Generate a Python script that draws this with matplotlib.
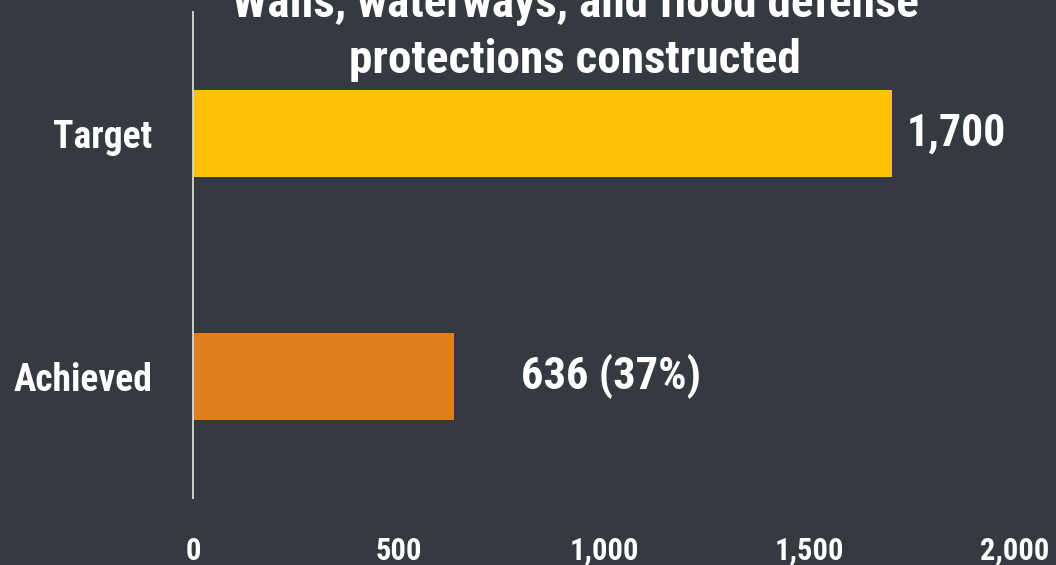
import matplotlib
matplotlib.use("Agg")
import matplotlib.pyplot as plt
from matplotlib import font_manager
from matplotlib.ticker import FuncFormatter

# Data
categories = ["Target", "Achieved"]
values = [1700, 636]
bar_colors = ["#ffc107", "#e07f1c"]
title_lines = ["Walls, waterways, and flood defense", "protections constructed"]
x_ticks = [0, 500, 1000, 1500, 2000]

BG = "#343a40"

# Prefer a narrow/condensed sans face if one is installed
available = {f.name for f in font_manager.fontManager.ttflist}
candidates = ["Roboto Condensed", "Liberation Sans Narrow", "DejaVu Sans Condensed",
              "DejaVu Sans"]
family = next((c for c in candidates if c in available), "DejaVu Sans")
stretch = "condensed" if family == "DejaVu Sans" else "normal"
plt.rcParams["font.family"] = [family, "DejaVu Sans"]

fig = plt.figure(figsize=(10.56, 5.65), dpi=100, facecolor=BG)
W, H = 1056, 565
ax_left, ax_right, ax_top, ax_bottom = 193, 1015, 12, 498
ax = fig.add_axes([ax_left / W, 1 - ax_bottom / H,
                   (ax_right - ax_left) / W, (ax_bottom - ax_top) / H])
ax.set_facecolor(BG)

ypos = list(range(len(categories)))
ax.barh(ypos, values, height=0.357, color=bar_colors, zorder=2)
ax.set_ylim(len(categories) - 0.5, -0.5)
ax.set_xlim(x_ticks[0], x_ticks[-1])

for s in ["top", "right", "bottom"]:
    ax.spines[s].set_visible(False)
ax.spines["left"].set_color("#d8d8d8")
ax.spines["left"].set_linewidth(1.3)

ax.set_yticks(ypos)
ax.set_yticklabels(categories)
ax.set_xticks(x_ticks)
ax.xaxis.set_major_formatter(FuncFormatter(lambda v, p: f"{int(v):,}"))
ax.tick_params(axis="y", length=0, pad=29.5, colors="white", labelsize=27)
ax.tick_params(axis="x", length=0, pad=27, colors="white", labelsize=22)
for lab in ax.get_yticklabels() + ax.get_xticklabels():
    lab.set_fontweight("bold")
    lab.set_fontstretch(stretch)

# Value labels
total = values[0]
labels = [f"{values[0]:,}", f"{values[1]:,} ({round(values[1] / total * 100)}%)"]
offsets = [15, 67]
sizes = [31.5, 32]
for y, v, txt, off, sz in zip(ypos, values, labels, offsets, sizes):
    ax.annotate(txt, xy=(v, y), xytext=(off * 72 / 100, 0), textcoords="offset points",
                ha="left", va="center", color="white", fontsize=sz,
                fontweight="bold", fontstretch=stretch, annotation_clip=False)

# Title (top line runs off the canvas)
fig.text(575 / W, 1 - 73 / H, "\n".join(title_lines), ha="center", va="baseline",
         color="white", fontsize=34, fontweight="bold", fontstretch=stretch,
         linespacing=1.35, multialignment="center")

fig.savefig("out.png", dpi=100, facecolor=BG)
